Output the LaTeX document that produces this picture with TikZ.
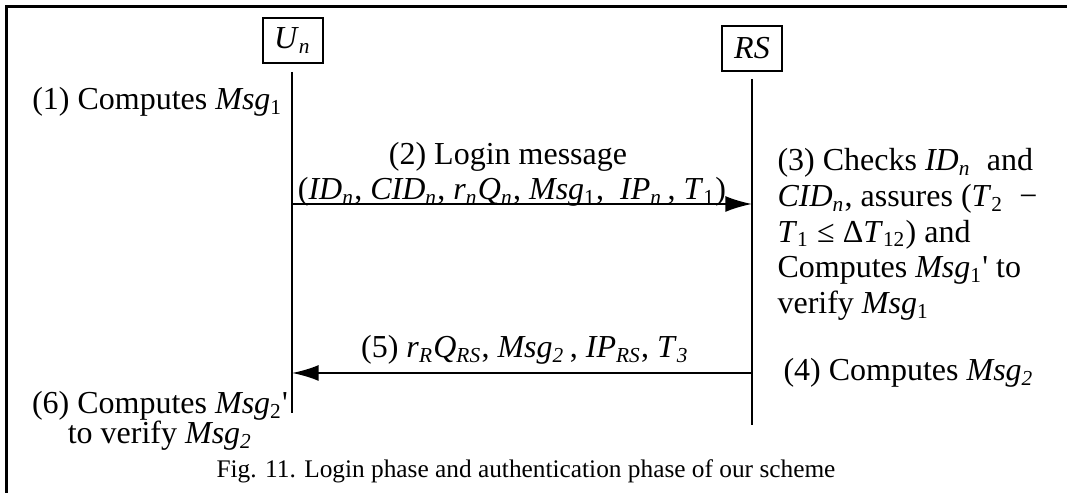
\documentclass[tikz,border=0pt]{standalone}
\usepackage{fontspec}
\setmainfont{Liberation Serif}
\newfontfamily\rawserif{Liberation Serif}
\usepackage{tikz}
\usetikzlibrary{arrows.meta}
\newcommand{\vi}[2]{\textit{#1}\textsubscript{\textit{#2}}}
\newcommand{\vu}[2]{\textit{#1}\textsubscript{#2}}
\newcommand{\prm}{{\rawserif'}}

\tikzset{
  actor/.style={draw,line width=0.75pt,inner sep=0pt,
                minimum width=22.5pt,minimum height=17pt},
  lifeline/.style={line width=0.75pt},
  msg/.style={line width=0.75pt,-{Latex[length=10pt,width=6pt]}},
  lbl/.style={inner sep=0pt},
  frame/.style={line width=1.1pt}
}

\begin{document}
\begin{tikzpicture}[x=0.375pt,y=-0.375pt,font=\fontsize{12}{13.4}\selectfont]
     \useasboundingbox (0,0) rectangle (1067,493);
     \draw[frame] (6.5,493) -- (6.5,6.5) -- (1067,6.5);
     \node[actor] (un) at (292.5,40.5) {\vi{U}{n}};
     \node[actor] (rs) at (752.0,48.5) {\textit{RS}};
     \coordinate (un-top) at (292, 72);
     \coordinate (un-bot) at (292,413);
     \coordinate (rs-top) at (752, 79);
     \coordinate (rs-bot) at (752,425);
     \coordinate (login-from) at (292,204);
     \coordinate (login-to)   at (752,204);
     \coordinate (reply-from) at (752,373);
     \coordinate (reply-to)   at (292,373);
     \draw[lifeline] (un-top) -- (un-bot);
     \draw[lifeline] (rs-top) -- (rs-bot);
     \draw[msg] (login-from) -- (login-to);
     \draw[msg] (reply-from) -- (reply-to);
     \node[lbl,anchor=base east] (step1) at (283,110)
      {(1) Computes \vu{Msg}{1}};
     \node[lbl,anchor=base] (step2) at (508,165) {(2) Login message};
     \node[lbl,anchor=base] (step2data) at (512,200)
      {(\vi{ID}{n}, \vi{CID}{n}, \vi{r}{n}\vi{Q}{n}, \vu{Msg}{1},\ \ \vi{IP}{n}\,, \vu{T}{1})};
     \node[lbl,anchor=north west,align=left] (step3) at (777,148)
      {(3) Checks \vi{ID}{n}\ \ and\\
       \vi{CID}{n}, assures (\vu{T}{2}\ \ −\\
       \vu{T}{1} ≤ Δ\vu{T}{12}) and\\
       Computes \vu{Msg}{1}\prm{} to\\
       verify \vu{Msg}{1}};
     \node[lbl,anchor=base west] (step4) at (783,381)
      {(4) Computes \vi{Msg}{2}};
     \node[lbl,anchor=base] (step5) at (525,358)
      {(5) \vi{r}{R}\vi{Q}{RS}, \vi{Msg}{2}\,, \vi{IP}{RS}, \vi{T}{3}};
     \node[lbl,anchor=north,align=center,font=\fontsize{12}{11.3}\selectfont] (step6) at (160,391)
      {(6) Computes \vu{Msg}{2}\prm\\
       to verify \vi{Msg}{2}};
     \node[lbl,anchor=base,font=\fontsize{9.5}{11}\selectfont] (caption) at (526,478)
      {Fig. 11. Login phase and authentication phase of our scheme};
\end{tikzpicture}
\end{document}
